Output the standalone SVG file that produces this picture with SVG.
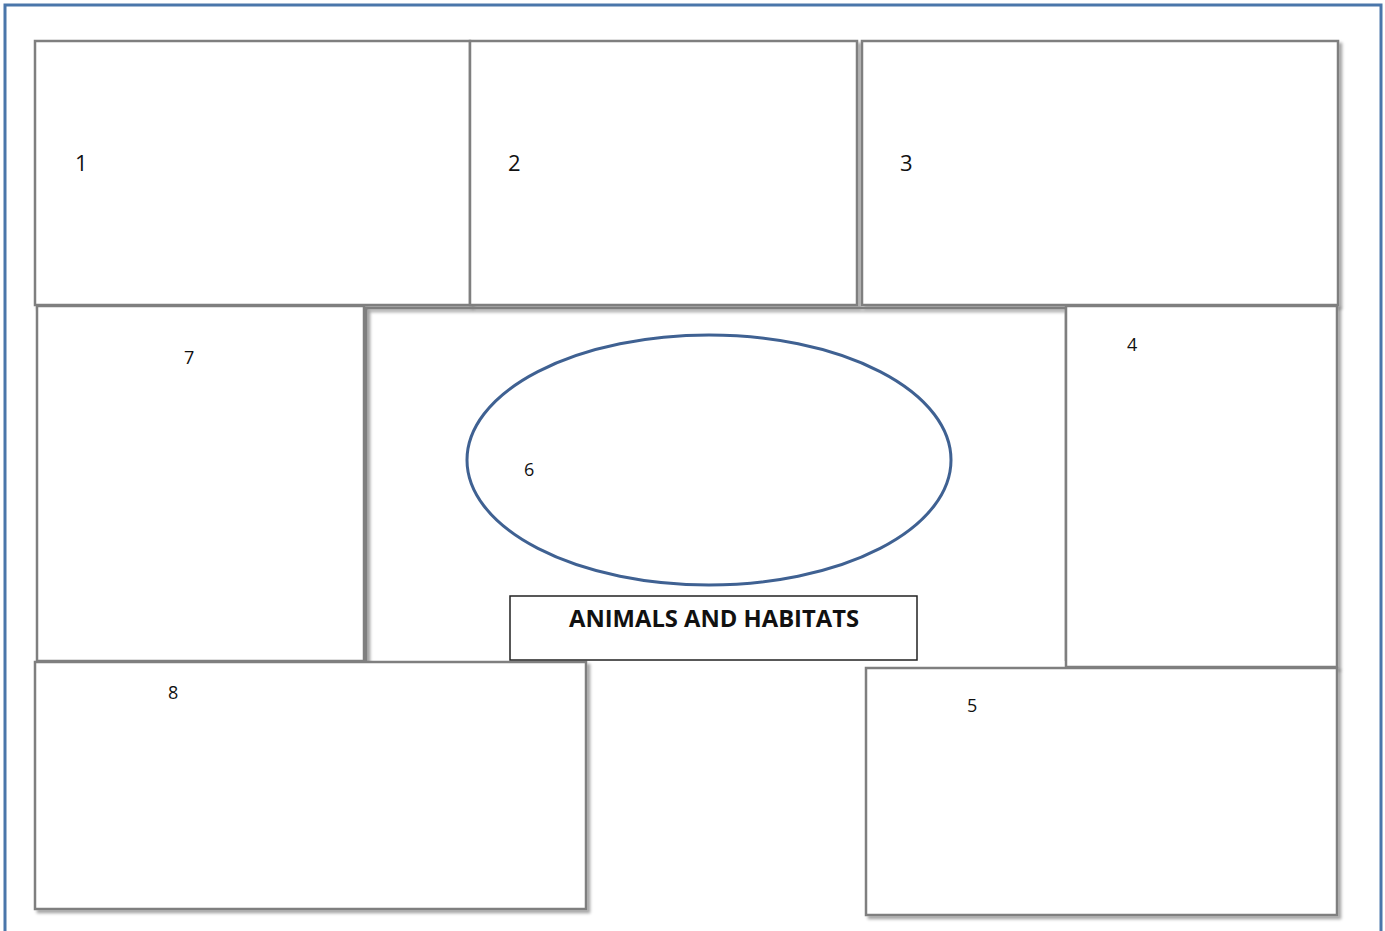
<svg xmlns="http://www.w3.org/2000/svg" width="1385" height="931" viewBox="0 0 1385 931">
<style>
.box{fill:#fff;stroke:#7f7f7f;stroke-width:2.5;filter:url(#sh)}
.num{font-family:"Open Sans","Liberation Sans",sans-serif;fill:#111}
.title{font-family:"Open Sans","Liberation Sans",sans-serif;font-weight:bold;font-size:22.5px;fill:#111;text-anchor:middle}
</style>
<defs>
<filter id="sh" x="-5%" y="-5%" width="115%" height="115%">
<feDropShadow dx="3" dy="3" stdDeviation="1.5" flood-color="#000" flood-opacity="0.35"/>
</filter>
</defs>
<rect width="1385" height="931" fill="#fff"/>
<rect id="frame" x="5" y="5" width="1376" height="940" fill="none" stroke="#4a76aa" stroke-width="3"/>
<g id="n1"><rect class="box" x="35" y="41" width="435" height="264"/><text class="num" x="75" y="171" font-size="22">1</text></g>
<g id="n2"><rect class="box" x="470" y="41" width="387" height="264"/><text class="num" x="508" y="171" font-size="22">2</text></g>
<g id="n3"><rect class="box" x="862" y="41" width="476" height="264"/><text class="num" x="900" y="171" font-size="22">3</text></g>
<g id="n7"><rect class="box" x="37" y="306" width="327" height="355"/><text class="num" x="184" y="364" font-size="18">7</text></g>
<g id="center"><path class="box" d="M366,661 V308 H1066 V661" style="fill:none"/></g>
<g id="n4"><rect class="box" x="1066" y="306" width="271" height="361"/><text class="num" x="1127" y="351" font-size="18">4</text></g>
<g id="n8"><rect class="box" x="35" y="662" width="551" height="247"/><text class="num" x="168" y="699" font-size="18">8</text></g>
<g id="n5"><rect class="box" x="866" y="668" width="471" height="247"/><text class="num" x="967" y="712" font-size="18">5</text></g>
<g id="n6"><ellipse cx="709" cy="460" rx="242" ry="125" fill="#fff" stroke="#3f6192" stroke-width="3"/><text class="num" x="524" y="476" font-size="18">6</text></g>
<g id="title"><rect x="510" y="596" width="407" height="64" fill="#fff" stroke="#222" stroke-width="1.5"/><text class="title" x="714" y="627" textLength="290" lengthAdjust="spacingAndGlyphs">ANIMALS AND HABITATS</text></g>
<g id="connectors"></g>
</svg>
